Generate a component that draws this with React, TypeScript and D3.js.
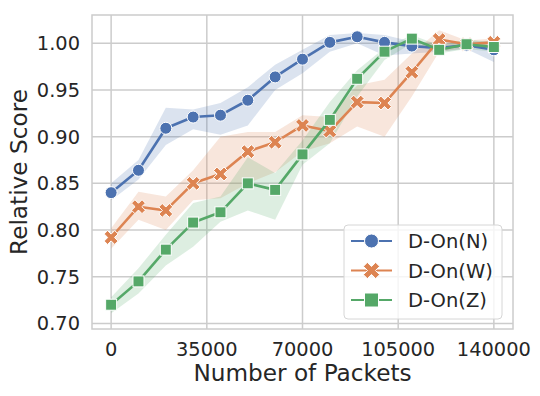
import React, { useRef, useEffect } from 'react';
import * as d3 from 'd3';

// x values (number of packets)
const packets = [0, 10000, 20000, 30000, 40000, 50000, 60000, 70000, 80000, 90000, 100000, 110000, 120000, 130000, 140000];

// mean scores
const scoreN = [0.840, 0.864, 0.909, 0.921, 0.923, 0.939, 0.964, 0.983, 1.001, 1.007, 1.001, 0.997, 0.995, 0.998, 0.993];
const scoreW = [0.792, 0.825, 0.821, 0.850, 0.860, 0.884, 0.894, 0.912, 0.906, 0.937, 0.936, 0.969, 1.004, 0.999, 1.001];
const scoreZ = [0.720, 0.745, 0.779, 0.808, 0.819, 0.850, 0.843, 0.881, 0.918, 0.962, 0.991, 1.005, 0.993, 0.999, 0.996];

// confidence band (lower / upper)
const lowN = [0.832, 0.854, 0.891, 0.908, 0.902, 0.912, 0.950, 0.968, 0.991, 1.000, 0.987, 0.989, 0.991, 0.994, 0.980];
const highN = [0.850, 0.875, 0.931, 0.929, 0.936, 0.953, 0.977, 0.993, 1.009, 1.011, 1.009, 1.002, 0.999, 1.002, 1.002];
const lowW = [0.780, 0.811, 0.800, 0.832, 0.834, 0.850, 0.862, 0.884, 0.893, 0.911, 0.900, 0.943, 0.991, 0.995, 0.997];
const highW = [0.802, 0.841, 0.836, 0.864, 0.900, 0.905, 0.905, 0.923, 0.921, 0.955, 0.961, 0.989, 1.014, 1.003, 1.005];
const lowZ = [0.711, 0.732, 0.762, 0.782, 0.809, 0.821, 0.811, 0.870, 0.893, 0.943, 0.982, 1.000, 0.989, 0.994, 0.991];
const highZ = [0.728, 0.759, 0.795, 0.829, 0.836, 0.878, 0.861, 0.896, 0.937, 0.971, 0.995, 1.009, 0.998, 1.004, 1.001];

const seriesNames = ['D-On(N)', 'D-On(W)', 'D-On(Z)'];
const colors = ['#4C72B0', '#DD8452', '#55A868'];

const xTicks = [0, 35000, 70000, 105000, 140000];
const yTicks = [0.70, 0.75, 0.80, 0.85, 0.90, 0.95, 1.00];

const FONT = 'DejaVu Sans, sans-serif';
const TEXT = '#262626';
const GRID = '#cccccc';

// filled "X" marker path centred at 0,0
const xMarker = (a: number, b: number) => {
  const pts = [
    [-b, -a], [b, -a], [b, -b], [a, -b], [a, b], [b, b], [b, a], [-b, a], [-b, b], [-a, b], [-a, -b], [-b, -b],
  ];
  const c = Math.SQRT1_2;
  return 'M' + pts.map(([x, y]) => `${((x - y) * c).toFixed(2)},${((x + y) * c).toFixed(2)}`).join('L') + 'Z';
};

const drawMarker = (g: any, kind: number, x: number, y: number, color: string, size: number) => {
  if (kind === 0) {
    g.append('circle').attr('cx', x).attr('cy', y).attr('r', size / 2)
      .attr('fill', color).attr('stroke', 'white').attr('stroke-width', 1);
  } else if (kind === 1) {
    g.append('path').attr('d', xMarker(size * 0.62, size * 0.2))
      .attr('transform', `translate(${x},${y})`)
      .attr('fill', color).attr('stroke', 'white').attr('stroke-width', 1);
  } else {
    g.append('rect').attr('x', x - size / 2).attr('y', y - size / 2)
      .attr('width', size).attr('height', size)
      .attr('fill', color).attr('stroke', 'white').attr('stroke-width', 1);
  }
};

const Chart = () => {
  const svgRef = useRef<SVGSVGElement>(null);

  useEffect(() => {
    const svg = d3.select(svgRef.current);
    svg.selectAll('*').remove();

    const width = 540;
    const height = 396;
    const margin = { top: 15, right: 27, bottom: 67, left: 92 };
    const innerWidth = width - margin.left - margin.right;
    const innerHeight = height - margin.top - margin.bottom;

    const xScale = d3.scaleLinear().domain([-7000, 147000]).range([0, innerWidth]);
    const yScale = d3.scaleLinear().domain([0.694, 1.0303]).range([innerHeight, 0]);

    const g = svg.append('g').attr('transform', `translate(${margin.left},${margin.top})`);

    // grid
    g.append('g').selectAll('line').data(xTicks).join('line')
      .attr('x1', d => xScale(d)).attr('x2', d => xScale(d))
      .attr('y1', 0).attr('y2', innerHeight)
      .attr('stroke', GRID).attr('stroke-width', 1.5);
    g.append('g').selectAll('line').data(yTicks).join('line')
      .attr('x1', 0).attr('x2', innerWidth)
      .attr('y1', d => yScale(d)).attr('y2', d => yScale(d))
      .attr('stroke', GRID).attr('stroke-width', 1.5);

    // frame
    g.append('rect').attr('width', innerWidth).attr('height', innerHeight)
      .attr('fill', 'none').attr('stroke', GRID).attr('stroke-width', 1.5);

    const means = [scoreN, scoreW, scoreZ];
    const lows = [lowN, lowW, lowZ];
    const highs = [highN, highW, highZ];

    // bands first (under every line)
    means.forEach((_, i) => {
      const area = d3.area<number>()
        .x(d => xScale(d))
        .y0((_, j) => yScale(lows[i][j]))
        .y1((_, j) => yScale(highs[i][j]));
      g.append('path').datum(packets)
        .attr('fill', colors[i]).attr('fill-opacity', 0.2)
        .attr('d', area);
    });

    // lines + markers
    means.forEach((vals, i) => {
      const line = d3.line<number>()
        .x(d => xScale(d))
        .y((_, j) => yScale(vals[j]));
      g.append('path').datum(packets)
        .attr('fill', 'none').attr('stroke', colors[i]).attr('stroke-width', 2.6)
        .attr('stroke-linejoin', 'round')
        .attr('d', line);
      const mg = g.append('g');
      packets.forEach((p, j) => drawMarker(mg, i, xScale(p), yScale(vals[j]), colors[i], i === 2 ? 11 : 12));
    });

    // tick labels
    g.append('g').selectAll('text').data(xTicks).join('text')
      .attr('x', d => xScale(d)).attr('y', innerHeight + 27)
      .attr('text-anchor', 'middle')
      .style('font-family', FONT).style('font-size', '19.4px').attr('fill', TEXT)
      .text(d => String(d));
    g.append('g').selectAll('text').data(yTicks).join('text')
      .attr('x', -12).attr('y', d => yScale(d)).attr('dy', '0.36em')
      .attr('text-anchor', 'end')
      .style('font-family', FONT).style('font-size', '19.4px').attr('fill', TEXT)
      .text(d => d3.format('.2f')(d));

    // axis titles
    svg.append('text')
      .attr('x', margin.left + innerWidth / 2).attr('y', 381)
      .attr('text-anchor', 'middle')
      .style('font-family', FONT).style('font-size', '23.2px').attr('fill', TEXT)
      .text('Number of Packets');
    svg.append('text')
      .attr('transform', `translate(26.5,172) rotate(-90)`)
      .attr('text-anchor', 'middle')
      .style('font-family', FONT).style('font-size', '23.2px').attr('fill', TEXT)
      .text('Relative Score');

    // legend
    const lg = svg.append('g').attr('transform', 'translate(344,225)');
    lg.append('rect').attr('width', 158).attr('height', 94).attr('rx', 4)
      .attr('fill', 'white').attr('fill-opacity', 0.8)
      .attr('stroke', '#d6d6d6').attr('stroke-width', 1);
    seriesNames.forEach((name, i) => {
      const yy = 16 + i * 29.5;
      lg.append('line').attr('x1', 7).attr('x2', 48).attr('y1', yy).attr('y2', yy)
        .attr('stroke', colors[i]).attr('stroke-width', 2);
      drawMarker(lg, i, 27.5, yy, colors[i], 14);
      lg.append('text').attr('x', 64).attr('y', yy).attr('dy', '0.36em')
        .style('font-family', FONT).style('font-size', '19.5px').attr('fill', TEXT)
        .text(name);
    });
  }, []);

  return (
    <svg ref={svgRef} width={540} height={396}
      style={{ position: 'absolute', left: 0, top: 0, background: 'white' }} />
  );
};

export default function App() {
  return <Chart />;
}
